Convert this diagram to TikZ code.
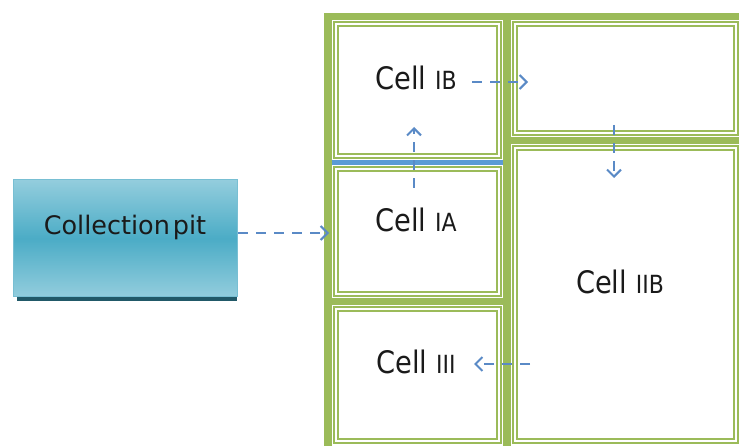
\documentclass[tikz,border=0pt]{standalone}
\usepackage{fontspec}
\usepackage{graphicx}
\setmainfont{DejaVu Sans}
\usetikzlibrary{arrows.meta}
\definecolor{grn}{HTML}{9BBB59}
\definecolor{bl}{HTML}{5B9BD5}
\definecolor{arr}{HTML}{5A8AC6}
\definecolor{tealL}{HTML}{93CDDD}
\definecolor{tealD}{HTML}{4BACC6}
\definecolor{tealB}{HTML}{78BFD3}
\definecolor{tealS}{HTML}{215968}
\definecolor{txt}{HTML}{1A1A1A}
\newcommand\smnum[1]{{\fontsize{25}{25}\selectfont #1}}
\begin{document}
\begin{tikzpicture}[x=1pt,y=-1pt,
  band/.style={fill=grn,draw=none},
  cellbox/.style={draw=grn,line width=2pt,double=white,double distance=2pt,inner sep=0pt,outer sep=0pt,rectangle},
  lbl/.style={anchor=base,inner sep=0pt,text=txt,font=\fontsize{31}{31}\selectfont},
  flow/.style={draw=arr,line width=2pt,dash pattern=on 10pt off 8pt,-{Straight Barb[length=7pt,width=14pt]}},
]
\useasboundingbox (0,0) rectangle (739,446);
% green frame bands
\fill[band] (324,13) rectangle (332,446);
\fill[band] (324,13) rectangle (739,20);
\fill[band] (503,13) rectangle (511,446);
\fill[band] (332,298) rectangle (503,305);
\fill[band] (511,137) rectangle (739,144);
% blue divider
\fill[bl] (332,160) rectangle (503,165);
% cells
\node[cellbox,minimum width=163pt,minimum height=132pt] (ib) at (417.5,90) {};
\node[cellbox,minimum width=163pt,minimum height=125pt] (ia) at (417.5,231.5) {};
\node[cellbox,minimum width=163pt,minimum height=132pt] (iii) at (417.5,375) {};
\node[cellbox,minimum width=221pt,minimum height=109pt] (tr) at (625.5,78.5) {};
\node[cellbox,minimum width=221pt,minimum height=293pt] (iib) at (625.5,294.5) {};
% labels
\node[lbl] (ibt) at (416,89.3) {\scalebox{0.88}[1]{Cell \smnum{IB}}};
\node[lbl] (iat) at (416,231.7) {\scalebox{0.88}[1]{Cell \smnum{IA}}};
\node[lbl] (iibt) at (620,293.3) {\scalebox{0.88}[1]{Cell \smnum{IIB}}};
\node[lbl] (iiit) at (416,373.3) {\scalebox{0.88}[1]{Cell \smnum{III}}};
% collection pit
\fill[tealS] (17,290) rectangle (237,301);
\node[draw=tealB,line width=1pt,top color=tealL,bottom color=tealL,middle color=tealD,minimum width=224pt,minimum height=117pt,inner sep=0pt] (cp) at (125,238.5) {};
\node[anchor=base,inner sep=0pt,text=txt,font=\fontsize{25.5}{25.5}\selectfont] (cpt) at (125,235) {Collection\hspace{0.12em}pit};
% connector ends
\coordinate (a1s) at (238,233); \coordinate (a1e) at (329,233);
\coordinate (a2s) at (414,188); \coordinate (a2e) at (414,127);
\coordinate (a3s) at (472,82);  \coordinate (a3e) at (528,82);
\coordinate (a4s) at (614,125); \coordinate (a4e) at (614,178);
\coordinate (a5s) at (530,364); \coordinate (a5e) at (474,364);
\draw[flow] (a1s) -- (a1e);
\draw[flow] (a2s) -- (a2e);
\draw[flow] (a3s) -- (a3e);
\draw[flow] (a4s) -- (a4e);
\draw[flow] (a5s) -- (a5e);
\end{tikzpicture}
\end{document}
